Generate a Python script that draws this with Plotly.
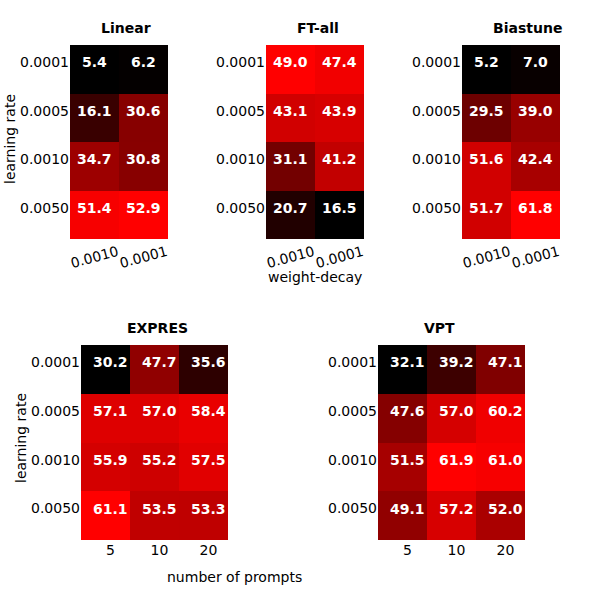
import plotly.graph_objects as go

# learning rates (rows) shared by all panels
lr_labels = ["0.0001", "0.0005", "0.0010", "0.0050"]
wd_labels = ["0.0010", "0.0001"]
prompt_labels = ["5", "10", "20"]

linear_vals = [[5.4, 6.2], [16.1, 30.6], [34.7, 30.8], [51.4, 52.9]]
ftall_vals = [[49.0, 47.4], [43.1, 43.9], [31.1, 41.2], [20.7, 16.5]]
biastune_vals = [[5.2, 7.0], [29.5, 39.0], [51.6, 42.4], [51.7, 61.8]]
expres_vals = [[30.2, 47.7, 35.6], [57.1, 57.0, 58.4], [55.9, 55.2, 57.5], [61.1, 53.5, 53.3]]
vpt_vals = [[32.1, 39.2, 47.1], [47.6, 57.0, 60.2], [51.5, 61.9, 61.0], [49.1, 57.2, 52.0]]

W = H = 600
FONT = "DejaVu Sans"
FS = 14

# panel name, values, x labels, pixel box (left, right, top, bottom), title x centre, title y
panels = [
    ("Linear", linear_vals, wd_labels, (70, 168, 45, 239), 126, 28),
    ("FT-all", ftall_vals, wd_labels, (266, 364, 45, 239), 318, 28),
    ("Biastune", biastune_vals, wd_labels, (462, 560, 45, 239), 527, 28),
    ("EXPRES", expres_vals, prompt_labels, (81, 228, 345, 540), 158, 328),
    ("VPT", vpt_vals, prompt_labels, (378, 525, 345, 540), 440, 328),
]

fig = go.Figure()
annotations = []

for k, (name, vals, xlabels, box, tx, ty) in enumerate(panels, start=1):
    left, right, top, bottom = box
    xa = "x" if k == 1 else f"x{k}"
    ya = "y" if k == 1 else f"y{k}"
    xi = list(range(len(xlabels)))
    yi = list(range(len(lr_labels)))
    rotated = xlabels is wd_labels
    dx = 0 if rotated else 0.1   # labels sit a little right of the cells in the bottom row
    fig.add_trace(go.Heatmap(
        z=vals, x=xi, y=yi,
        colorscale=[[0, "black"], [1, "red"]],
        showscale=False, xaxis=xa, yaxis=ya,
        hoverinfo="skip",
    ))
    fig.layout[f"xaxis{k}" if k > 1 else "xaxis"] = dict(
        domain=[left / W, right / W], anchor=ya, automargin=False,
        range=[-0.5, len(xlabels) - 0.5],
        tickvals=[v + dx for v in xi], ticktext=xlabels,
        showticklabels=not rotated,
        showgrid=False, zeroline=False, showline=False, ticks="",
        tickfont=dict(family=FONT, size=FS, color="black"),
        fixedrange=True,
    )
    fig.layout[f"yaxis{k}" if k > 1 else "yaxis"] = dict(
        domain=[1 - bottom / H, 1 - top / H], anchor=xa, automargin=False,
        range=[len(lr_labels) - 0.5, -0.5],
        tickvals=[v - 0.145 for v in yi], ticktext=lr_labels,
        showgrid=False, zeroline=False, showline=False,
        ticks="", tickfont=dict(family=FONT, size=FS, color="black"),
        fixedrange=True,
    )
    # rotated weight-decay tick labels, centred under each column
    if rotated:
        for j, lab in enumerate(xlabels):
            annotations.append(dict(
                x=j, y=1 - 257 / H, xref=xa, yref="paper", showarrow=False,
                text=lab, textangle=-15, xanchor="center", yanchor="middle",
                font=dict(family=FONT, size=FS, color="black"),
            ))
    # panel title
    annotations.append(dict(
        x=tx / W, y=1 - ty / H, xref="paper", yref="paper", showarrow=False,
        text=f"<b>{name}</b>", xanchor="center", yanchor="middle",
        font=dict(family=FONT, size=FS, color="black"),
    ))
    # cell values
    for i, row in enumerate(vals):
        for j, v in enumerate(row):
            annotations.append(dict(
                x=j + dx, y=i - 0.145, xref=xa, yref=ya, showarrow=False,
                text=f"<b>{v:.1f}</b>", xanchor="center", yanchor="middle",
                font=dict(family=FONT, size=FS, color="white"),
            ))

# axis titles
for x, y, txt, ang in [
    (10, 139, "learning rate", -90),
    (21, 438, "learning rate", -90),
    (315, 277, "weight-decay", 0),
    (234, 577, "number of prompts", 0),
]:
    annotations.append(dict(
        x=x / W, y=1 - y / H, xref="paper", yref="paper", showarrow=False,
        text=txt, textangle=ang, xanchor="center", yanchor="middle",
        font=dict(family=FONT, size=FS, color="black"),
    ))

fig.update_layout(
    width=W, height=H, margin=dict(l=0, r=0, t=0, b=0, autoexpand=False),
    paper_bgcolor="white", plot_bgcolor="white",
    annotations=annotations, showlegend=False,
)

fig.write_html("out.html", config={"displayModeBar": False},
               post_script="document.body.style.margin='0';")
